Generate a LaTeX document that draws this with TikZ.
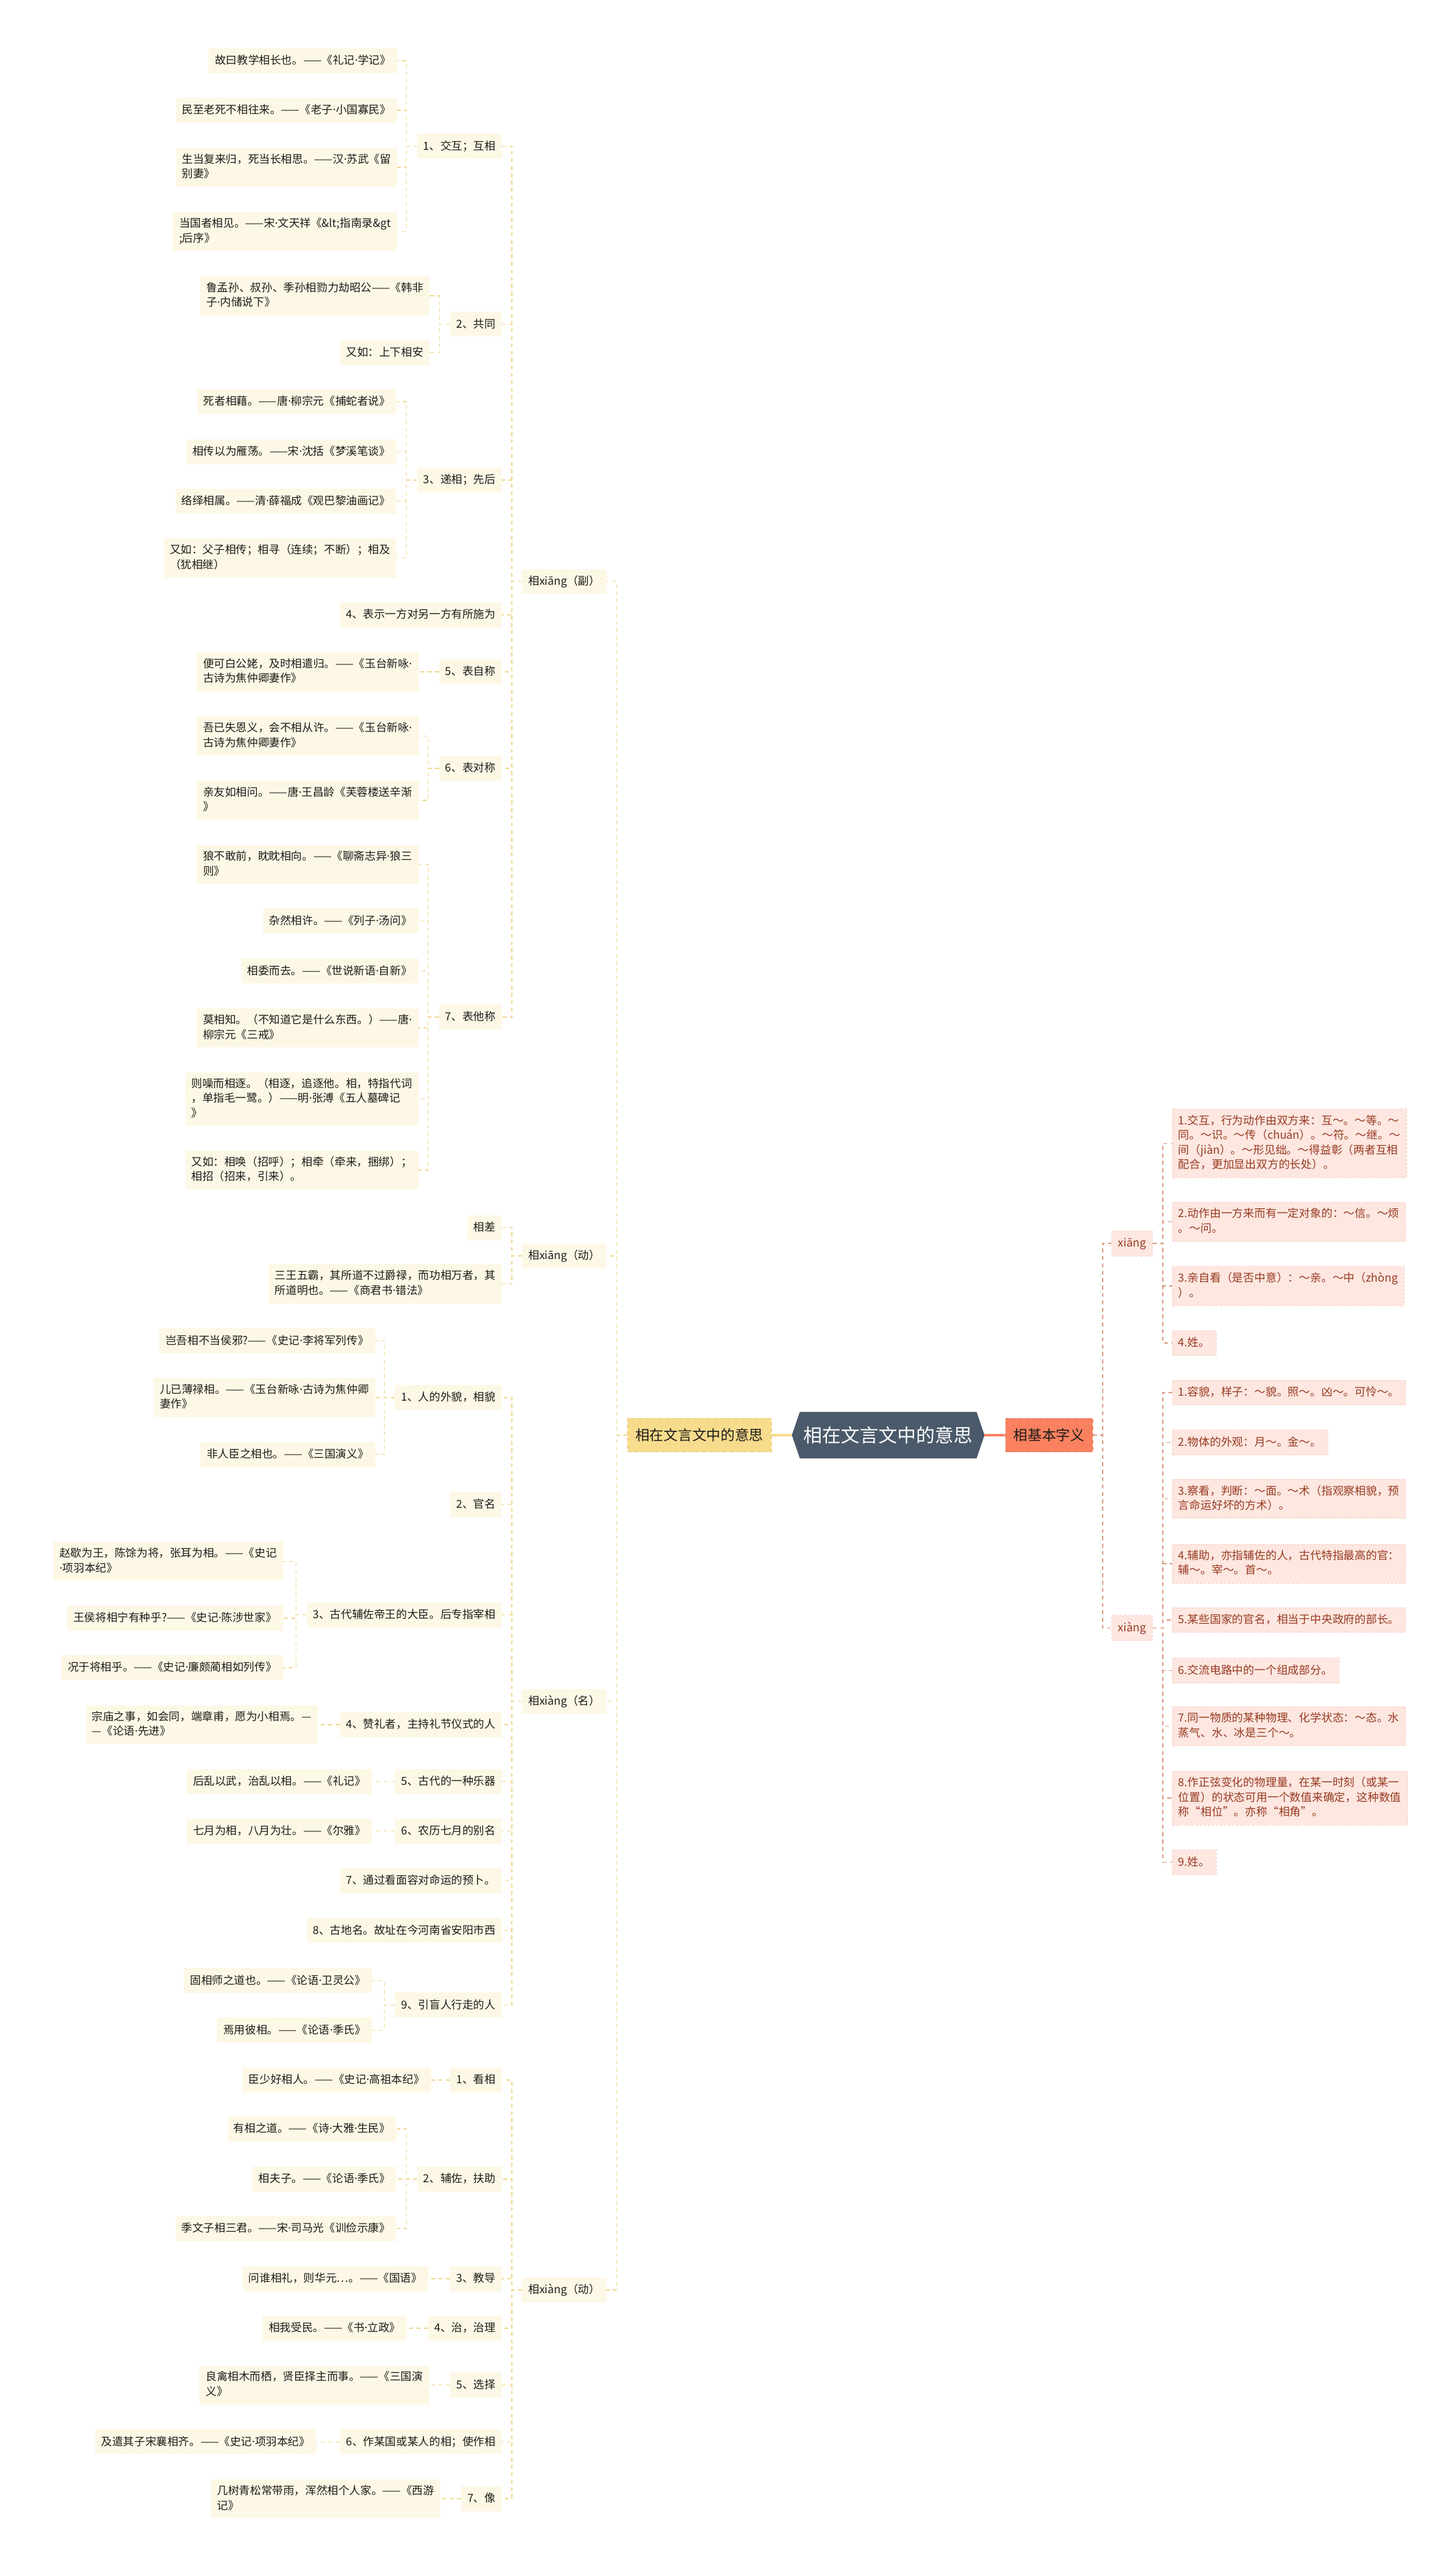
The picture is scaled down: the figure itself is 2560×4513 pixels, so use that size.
\documentclass[tikz,border=0pt]{standalone}
\usepackage{fontspec}
\setmainfont{Noto Sans CJK SC}
\newfontfamily\mdfont{Noto Sans}

\definecolor{rootbg}{HTML}{4A5A6A}
\definecolor{ylwbg}{HTML}{F7DC8D}
\definecolor{ylwln}{HTML}{E3BF5C}
\definecolor{creambg}{HTML}{FDF8E6}
\definecolor{lklin}{HTML}{F0D68A}
\definecolor{orgbg}{HTML}{FA8160}
\definecolor{orgln}{HTML}{E4694A}
\definecolor{pinkbg}{HTML}{FDE7E0}
\definecolor{pinkln}{HTML}{F6CFC2}
\definecolor{rklin}{HTML}{D99A80}
\definecolor{redtxt}{HTML}{983A22}
\definecolor{darktxt}{HTML}{1E1B18}

\newcommand{\lnstrut}{\rule[-2.6pt]{0pt}{11.6pt}}
\newcommand{\md}{{\mdfont\char"00B7}}

\tikzset{
  txt/.style={font=\fontsize{9.7}{13}\selectfont, align=left, text=darktxt,
    inner xsep=5.5pt, inner ysep=5.2pt,
    execute at begin node=\lnstrut, execute at end node=\lnstrut},
  egbox/.style={txt, fill=creambg, anchor=east},
  sensebox/.style={txt, fill=creambg, anchor=east},
  posbox/.style={txt, fill=creambg, anchor=east},
  defbox/.style={txt, font=\fontsize{9.8}{13}\selectfont, text=redtxt, fill=pinkbg,
    draw=pinkln, dash pattern=on 2pt off 1.5pt, line width=0.4pt, anchor=west},
  pybox/.style={defbox},
  mainL/.style={font=\fontsize{12.5}{15}\selectfont, text=darktxt, fill=ylwbg, draw=ylwln,
    dashed, line width=0.5pt, minimum height=29.5pt, inner xsep=7pt, anchor=west},
  mainR/.style={mainL, fill=orgbg, draw=orgln},
  root/.style={font=\fontsize{16.5}{20}\selectfont, text=white, minimum width=169pt,
    minimum height=40.5pt, inner sep=0pt},
  lk/.style={draw=lklin, line width=0.8pt, dash pattern=on 3.5pt off 3pt},
  rk/.style={draw=rklin, line width=0.8pt, dash pattern=on 3.5pt off 3pt},
}

\begin{document}
\begin{tikzpicture}[x=0.5pt, y=-0.5pt]
    \pgfdeclarelayer{background}
    \pgfsetlayers{background,main}
    \useasboundingbox (0,0) rectangle (2560,4513);

    % centre and the two main branches
    \node[root] (ctr) at (1562,2523) {相在文言文中的意思};
    \node[mainL] (lm) at (1103,2523) {相在文言文中的意思};
    \node[mainR] (rm) at (1768,2523) {相基本字义};
    \begin{pgfonlayer}{background}
        \fill[white] (0,0) rectangle (2560,4513);
        \fill[rootbg] ([xshift=7pt]ctr.north west) -- ([xshift=-7pt]ctr.north east) -- (ctr.east)
            -- ([xshift=-7pt]ctr.south east) -- ([xshift=7pt]ctr.south west) -- (ctr.west) -- cycle;
    \end{pgfonlayer}
    \draw[ylwbg, line width=2pt] (ctr.west) -- (lm.east);
    \draw[orgbg, line width=2pt] (ctr.east) -- (rm.west);

    % right: basic meanings
    \node[pybox] (xa) at (1955,2186) {xiāng};
    \node[pybox] (xb) at (1955,2862) {xiàng};
    \node[defbox] (r1) at (2061,2010) {1.交互，行为动作由双方来：互～。～等。～\\同。～识。～传（chuán）。～符。～继。～\\间（jiàn）。～形见绌。～得益彰（两者互相\\配合，更加显出双方的长处）。};
    \node[defbox] (r2) at (2061,2148) {2.动作由一方来而有一定对象的：～信。～烦\\。～问。};
    \node[defbox] (r3) at (2061,2261) {3.亲自看（是否中意）：～亲。～中（zhòng\\）。};
    \node[defbox] (r4) at (2061,2361) {4.姓。};
    \node[defbox] (s1) at (2061,2448) {1.容貌，样子：～貌。照～。凶～。可怜～。};
    \node[defbox] (s2) at (2061,2536) {2.物体的外观：月～。金～。};
    \node[defbox] (s3) at (2061,2635) {3.察看，判断：～面。～术（指观察相貌，预\\言命运好坏的方术）。};
    \node[defbox] (s4) at (2061,2749) {4.辅助，亦指辅佐的人，古代特指最高的官：\\辅～。宰～。首～。};
    \node[defbox] (s5) at (2061,2848) {5.某些国家的官名，相当于中央政府的部长。};
    \node[defbox] (s6) at (2061,2937) {6.交流电路中的一个组成部分。};
    \node[defbox] (s7) at (2061,3035) {7.同一物质的某种物理、化学状态：～态。水\\蒸气、水、冰是三个～。};
    \node[defbox] (s8) at (2061,3161) {8.作正弦变化的物理量，在某一时刻（或某一\\位置）的状态可用一个数值来确定，这种数值\\称“相位”。亦称“相角”。};
    \node[defbox] (s9) at (2061,3274) {9.姓。};
    \foreach \c in {xa,xb} \draw[rk] (rm.east) -- ++(17,0) |- (\c.west);
    \foreach \c in {r1,r2,r3,r4} \draw[rk] (xa.east) -- ++(18,0) |- (\c.west);
    \foreach \c in {s1,s2,s3,s4,s5,s6,s7,s8,s9} \draw[rk] (xb.east) -- ++(18,0) |- (\c.west);

    % left: parts of speech
    \node[posbox] (fu) at (1067,1022) {相xiāng（副）};
    \node[posbox] (dong1) at (1067,2208) {相xiāng（动）};
    \node[posbox] (ming) at (1067,2991) {相xiàng（名）};
    \node[posbox] (dong2) at (1067,4026) {相xiàng（动）};

    % 副
    \node[sensebox] (p1) at (883,257) {1、交互；互相};
    \node[sensebox] (p2) at (883,570) {2、共同};
    \node[sensebox] (p3) at (883,844) {3、递相；先后};
    \node[sensebox] (p4) at (883,1081) {4、表示一方对另一方有所施为};
    \node[sensebox] (p5) at (883,1181) {5、表自称};
    \node[sensebox] (p6) at (883,1351) {6、表对称};
    \node[sensebox] (p7) at (883,1788) {7、表他称};
    \node[egbox] (c11) at (699,107) {故曰教学相长也。——《礼记\md 学记》};
    \node[egbox] (c12) at (699,194) {民至老死不相往来。——《老子\md 小国寡民》};
    \node[egbox] (c13) at (699,294) {生当复来归，死当长相思。——汉\md 苏武《留\\别妻》};
    \node[egbox] (c14) at (699,407) {当国者相见。——宋\md 文天祥《\&lt;指南录\&gt\\;后序》};
    \node[egbox] (c21) at (756,520) {鲁孟孙、叔孙、季孙相勠力劫昭公——《韩非\\子\md 内储说下》};
    \node[egbox] (c22) at (756,620) {又如：上下相安};
    \node[egbox] (c31) at (698,706) {死者相藉。——唐\md 柳宗元《捕蛇者说》};
    \node[egbox] (c32) at (698,794) {相传以为雁荡。——宋\md 沈括《梦溪笔谈》};
    \node[egbox] (c33) at (698,881) {络绎相属。——清\md 薛福成《观巴黎油画记》};
    \node[egbox] (c34) at (698,981) {又如：父子相传；相寻（连续；不断）；相及\\（犹相继）};
    \node[egbox] (c51) at (736,1181) {便可白公姥，及时相遣归。——《玉台新咏\md\\古诗为焦仲卿妻作》};
    \node[egbox] (c61) at (736,1294) {吾已失恩义，会不相从许。——《玉台新咏\md\\古诗为焦仲卿妻作》};
    \node[egbox] (c62) at (736,1407) {亲友如相问。——唐\md 王昌龄《芙蓉楼送辛渐\\》};
    \node[egbox] (c71) at (736,1520) {狼不敢前，眈眈相向。——《聊斋志异\md 狼三\\则》};
    \node[egbox] (c72) at (736,1619) {杂然相许。——《列子\md 汤问》};
    \node[egbox] (c73) at (736,1707) {相委而去。——《世说新语\md 自新》};
    \node[egbox] (c74) at (736,1807) {莫相知。（不知道它是什么东西。）——唐\md\\柳宗元《三戒》};
    \node[egbox] (c75) at (736,1932) {则噪而相逐。（相逐，追逐他。相，特指代词\\，单指毛一鹭。）——明\md 张溥《五人墓碑记\\》};
    \node[egbox] (c76) at (736,2057) {又如：相唤（招呼）；相牵（牵来，捆绑）；\\相招（招来，引来）。};

    % 动 (xiāng)
    \node[sensebox] (d1) at (883,2158) {相差};
    \node[sensebox] (d2) at (883,2257) {三王五霸，其所道不过爵禄，而功相万者，其\\所道明也。——《商君书\md 错法》};

    % 名
    \node[sensebox] (mp1) at (883,2457) {1、人的外貌，相貌};
    \node[sensebox] (mp2) at (883,2645) {2、官名};
    \node[sensebox] (mp3) at (883,2839) {3、古代辅佐帝王的大臣。后专指宰相};
    \node[sensebox] (mp4) at (883,3032) {4、赞礼者，主持礼节仪式的人};
    \node[sensebox] (mp5) at (883,3132) {5、古代的一种乐器};
    \node[sensebox] (mp6) at (883,3219) {6、农历七月的别名};
    \node[sensebox] (mp7) at (883,3306) {7、通过看面容对命运的预卜。};
    \node[sensebox] (mp8) at (883,3394) {8、古地名。故址在今河南省安阳市西};
    \node[sensebox] (mp9) at (883,3525) {9、引盲人行走的人};
    \node[egbox] (m11) at (660,2357) {岂吾相不当侯邪?——《史记\md 李将军列传》};
    \node[egbox] (m12) at (660,2457) {儿已薄禄相。——《玉台新咏\md 古诗为焦仲卿\\妻作》};
    \node[egbox] (m13) at (660,2557) {非人臣之相也。——《三国演义》};
    \node[egbox] (m31) at (498,2745) {赵歇为王，陈馀为将，张耳为相。——《史记\\\md 项羽本纪》};
    \node[egbox] (m32) at (498,2845) {王侯将相宁有种乎?——《史记\md 陈涉世家》};
    \node[egbox] (m33) at (498,2932) {况于将相乎。——《史记\md 廉颇蔺相如列传》};
    \node[egbox] (m41) at (559,3032) {宗庙之事，如会同，端章甫，愿为小相焉。—\\—《论语\md 先进》};
    \node[egbox] (m51) at (655,3132) {后乱以武，治乱以相。——《礼记》};
    \node[egbox] (m61) at (655,3219) {七月为相，八月为壮。——《尔雅》};
    \node[egbox] (m91) at (655,3482) {固相师之道也。——《论语\md 卫灵公》};
    \node[egbox] (m92) at (655,3569) {焉用彼相。——《论语\md 季氏》};

    % 动 (xiàng)
    \node[sensebox] (ep1) at (883,3657) {1、看相};
    \node[sensebox] (ep2) at (883,3831) {2、辅佐，扶助};
    \node[sensebox] (ep3) at (883,4006) {3、教导};
    \node[sensebox] (ep4) at (883,4093) {4、治，治理};
    \node[sensebox] (ep5) at (883,4193) {5、选择};
    \node[sensebox] (ep6) at (883,4293) {6、作某国或某人的相；使作相};
    \node[sensebox] (ep7) at (883,4393) {7、像};
    \node[egbox] (e11) at (758,3657) {臣少好相人。——《史记\md 高祖本纪》};
    \node[egbox] (e21) at (698,3743) {有相之道。——《诗\md 大雅\md 生民》};
    \node[egbox] (e22) at (698,3831) {相夫子。——《论语\md 季氏》};
    \node[egbox] (e23) at (698,3918) {季文子相三君。——宋\md 司马光《训俭示康》};
    \node[egbox] (e31) at (754,4006) {问谁相礼，则华元…。——《国语》};
    \node[egbox] (e41) at (716,4093) {相我受民。——《书\md 立政》};
    \node[egbox] (e51) at (755,4193) {良禽相木而栖，贤臣择主而事。——《三国演\\义》};
    \node[egbox] (e61) at (557,4293) {及遣其子宋襄相齐。——《史记\md 项羽本纪》};
    \node[egbox] (e71) at (775,4393) {几树青松常带雨，浑然相个人家。——《西游\\记》};

    % left connectors
    \foreach \c in {fu,dong1,ming,dong2} \draw[lk] (lm.west) -- ++(-18.5,0) |- (\c.east);
    \foreach \p/\c in {fu/p1,fu/p2,fu/p3,fu/p4,fu/p5,fu/p6,fu/p7,dong1/d1,dong1/d2,
        ming/mp1,ming/mp2,ming/mp3,ming/mp4,ming/mp5,ming/mp6,ming/mp7,ming/mp8,ming/mp9,
        dong2/ep1,dong2/ep2,dong2/ep3,dong2/ep4,dong2/ep5,dong2/ep6,dong2/ep7}
        \draw[lk] (\p.west) -- ++(-17.5,0) |- (\c.east);
    \foreach \p/\c in {p1/c11,p1/c12,p1/c13,p1/c14,p2/c21,p2/c22,p3/c31,p3/c32,p3/c33,p3/c34,
        p5/c51,p6/c61,p6/c62,p7/c71,p7/c72,p7/c73,p7/c74,p7/c75,p7/c76,
        mp1/m11,mp1/m12,mp1/m13,mp3/m31,mp3/m32,mp3/m33,mp4/m41,mp5/m51,mp6/m61,mp9/m91,mp9/m92,
        ep1/e11,ep2/e21,ep2/e22,ep2/e23,ep3/e31,ep4/e41,ep5/e51,ep6/e61,ep7/e71}
        \draw[lk] (\p.west) -- ++(-18.5,0) |- (\c.east);
\end{tikzpicture}
\end{document}
